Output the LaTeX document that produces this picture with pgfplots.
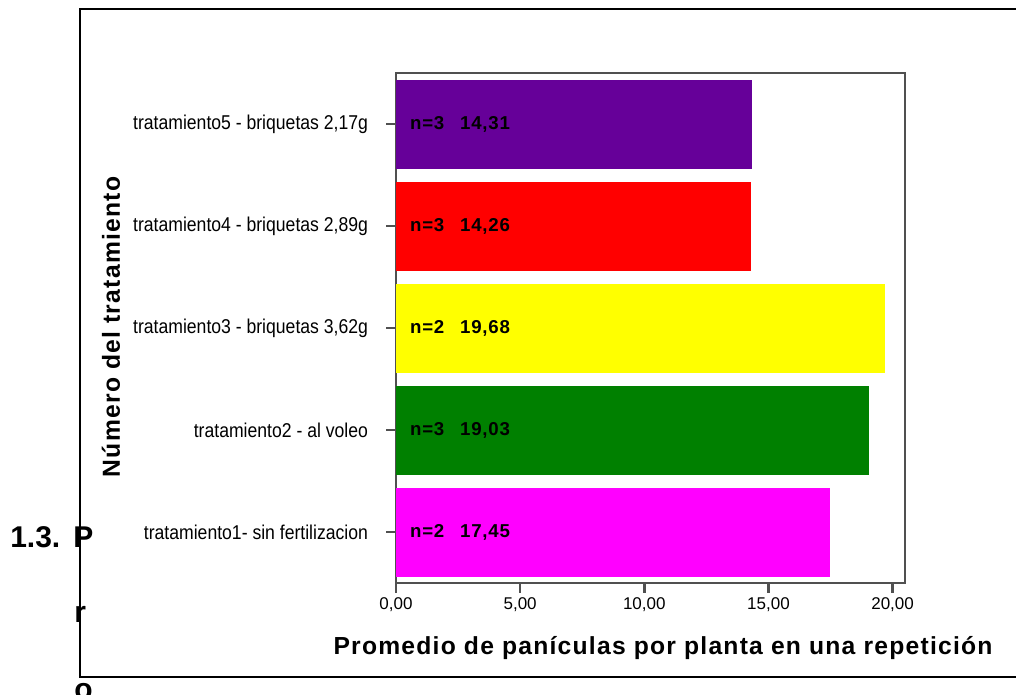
\documentclass[border=0pt]{standalone}
\usepackage{fontspec}
\setmainfont{Liberation Sans}
\usepackage{pgfplots}
\pgfplotsset{compat=1.18}
\definecolor{cpurple}{RGB}{102,0,153}
\definecolor{cred}{RGB}{255,0,0}
\definecolor{cyellow}{RGB}{255,255,0}
\definecolor{cgreen}{RGB}{0,128,0}
\definecolor{cmagenta}{RGB}{255,0,255}
\definecolor{axgray}{RGB}{80,80,80}
\newfontfamily\narrowfont[FakeStretch=0.88]{Liberation Sans}
\begin{document}
\begin{tikzpicture}[x=0.75pt,y=0.75pt]
\path[use as bounding box] (0,0) rectangle (1016,695);
\begin{scope}
\clip (0,0) rectangle (1016,695);
\draw[black,line width=1.8pt] (1030,686) -- (80,686) -- (80,18) -- (1030,18);
\end{scope}
\begin{axis}[
  at={(297pt,84pt)}, anchor=south west,
  width=381.75pt, height=382.5pt, scale only axis,
  xbar, bar shift=0pt, bar width=0.86,
  xmin=0, xmax=20.5, ymin=0.5, ymax=5.5,
  xtick={0,5,10,15,20},
  ytick={1,2,3,4,5},
  xtick pos=bottom, ytick pos=left,
  yticklabels={tratamiento1- sin fertilizacion, tratamiento2 - al voleo, tratamiento3 - briquetas 3{,}62g, tratamiento4 - briquetas 2{,}89g, tratamiento5 - briquetas 2{,}17g},
  tick align=outside,
  major tick length=7.5pt,
  tick style={axgray, line width=2pt},
  axis line style={axgray, line width=1.2pt},
  xticklabel style={font=\fontsize{12.75}{14}\selectfont},
  yticklabel style={font=\narrowfont\fontsize{15}{17}\selectfont, xshift=-10pt},
  /pgf/number format/.cd, use comma, fixed, fixed zerofill, precision=2, assume math mode=true,
]
\addplot[fill=cmagenta, draw=cmagenta] coordinates {(17.45,1)};
\addplot[fill=cgreen, draw=cgreen] coordinates {(19.03,2)};
\addplot[fill=cyellow, draw=cyellow] coordinates {(19.68,3)};
\addplot[fill=cred, draw=cred] coordinates {(14.26,4)};
\addplot[fill=cpurple, draw=cpurple] coordinates {(14.31,5)};
\tikzset{vlab/.style={anchor=west, inner sep=0pt, font=\bfseries\fontsize{14}{16}\selectfont\addfontfeature{LetterSpace=4}}}
\node[vlab] at (axis cs:0.56,1) {n=2\hspace{0.85em}17,45};
\node[vlab] at (axis cs:0.56,2) {n=3\hspace{0.85em}19,03};
\node[vlab] at (axis cs:0.56,3) {n=2\hspace{0.85em}19,68};
\node[vlab] at (axis cs:0.56,4) {n=3\hspace{0.85em}14,26};
\node[vlab] at (axis cs:0.56,5) {n=3\hspace{0.85em}14,31};
\end{axis}
\node[inner sep=0pt, font=\bfseries\fontsize{18.5}{20}\selectfont\addfontfeature{LetterSpace=5}] at (663,47) {Promedio de panículas por planta en una repetición};
\node[inner sep=0pt, rotate=90, font=\bfseries\fontsize{18.5}{20}\selectfont\addfontfeature{LetterSpace=5}] at (111,368) {Número del tratamiento};
\node[anchor=base west, inner sep=0pt, font=\bfseries\fontsize{22.5}{24}\selectfont] at (10,147) {1.3.};
\node[anchor=base west, inner sep=0pt, font=\bfseries\fontsize{22.5}{24}\selectfont] at (73,147) {P};
\node[anchor=base west, inner sep=0pt, font=\bfseries\fontsize{22.5}{24}\selectfont] at (74,72) {r};
\node[anchor=base west, inner sep=0pt, font=\bfseries\fontsize{22.5}{24}\selectfont] at (74,-5) {o};
\end{tikzpicture}
\end{document}
